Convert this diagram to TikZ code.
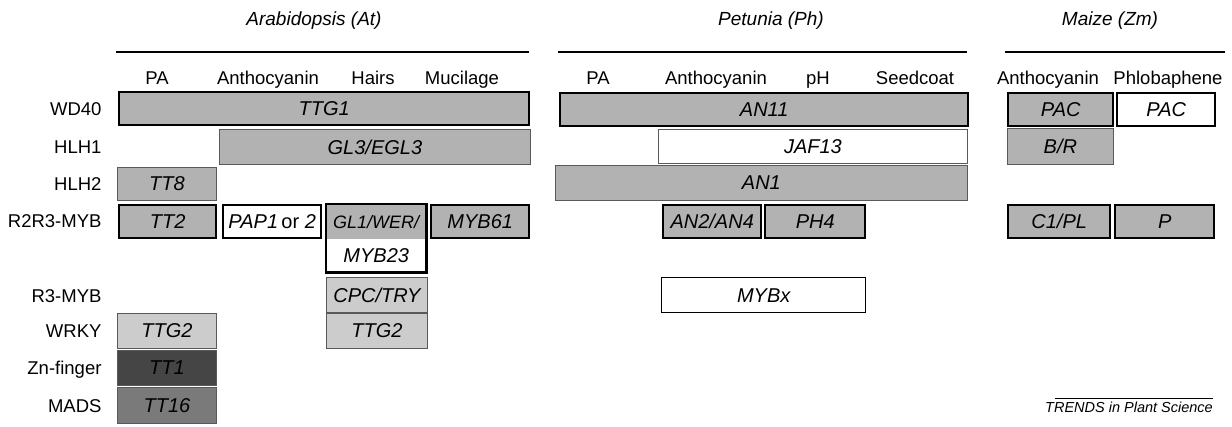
\documentclass[tikz,border=0pt]{standalone}
\usepackage{fontspec}
\setmainfont{Liberation Sans}
\usepackage{tikz}
\definecolor{midgray}{gray}{0.70}
\definecolor{palegray}{gray}{0.80}
\definecolor{darkfill}{gray}{0.27}
\definecolor{madsfill}{gray}{0.48}
\definecolor{thinline}{gray}{0.35}
\newcommand{\hdfont}{\fontsize{18.5}{20}\selectfont}
\newcommand{\boxfont}{\fontsize{20}{22}\selectfont\itshape}
\tikzset{
  x=1pt, y=-1pt, % one unit is one pixel of the figure, y runs downwards
  cell/.style={anchor=north west, inner sep=0pt, minimum height=35pt, font=\boxfont}, % every box of the table
  fat/.style={cell, draw=black, line width=2.4pt, fill=midgray}, % gray box with heavy frame
  fatwhite/.style={fat, fill=white}, % white box with heavy frame
  slim/.style={cell, draw=thinline, line width=0.8pt, fill=midgray}, % gray box with light frame
  slimpale/.style={slim, fill=palegray}, % paler box
  slimwhite/.style={slim, fill=white}, % white box with light frame
  rowlab/.style={anchor=base east, font=\hdfont}, % family names on the left
  colhead/.style={anchor=base, font=\hdfont}, % process names above the boxes
  species/.style={anchor=base, font=\fontsize{19}{21}\selectfont\itshape}, % species titles
  rule/.style={line width=2.4pt}, % line under each species
}
\begin{document}
\begin{tikzpicture}
  \useasboundingbox (0,0) rectangle (1232,426);

  % species and processes
  \node[species] (arab) at (314,25) {Arabidopsis (At)};
  \node[species] (petu) at (771,25) {Petunia (Ph)};
  \node[species] (maize) at (1110,25) {Maize (Zm)};
  \draw[rule] (116,52) -- (529,52);
  \draw[rule] (558,52) -- (967,52);
  \draw[rule] (1005,52) -- (1225,52);
  \node[colhead] (hpa) at (157,84) {PA};
  \node[colhead] (hanth) at (268,84) {Anthocyanin};
  \node[colhead] (hhair) at (373,84) {Hairs};
  \node[colhead] (hmuc) at (462,84) {Mucilage};
  \node[colhead] (ppa) at (598,84) {PA};
  \node[colhead] (panth) at (716,84) {Anthocyanin};
  \node[colhead] (pph) at (818,84) {pH};
  \node[colhead] (pseed) at (915,84) {Seedcoat};
  \node[colhead] (manth) at (1048,84) {Anthocyanin};
  \node[colhead] (mphlo) at (1168,84) {Phlobaphene};

  % families
  \node[rowlab] (wd40) at (105,115) {WD40};
  \node[rowlab] (hlh1) at (105,153) {HLH1};
  \node[rowlab] (hlh2) at (105,190) {HLH2};
  \node[rowlab] (r2r3) at (105,227) {R2R3-MYB};
  \node[rowlab] (r3) at (105,302) {R3-MYB};
  \node[rowlab] (wrky) at (105,337) {WRKY};
  \node[rowlab] (zn) at (105,374) {Zn-finger};
  \node[rowlab] (mads) at (105,412) {MADS};

  % Arabidopsis
  \node[fat, minimum width=410pt, minimum height=33pt] (ttg1) at (118,91) {TTG1};
  \node[slim, minimum width=311pt] (gl3) at (219,129) {GL3/EGL3};
  \node[slim, minimum width=99pt, minimum height=33pt] (tt8) at (117,167) {TT8};
  \node[fat, minimum width=97pt, minimum height=33pt] (tt2) at (118,204) {TT2};
  \node[fatwhite, minimum width=98pt, minimum height=33pt] (pap) at (222,204) {\textit{PAP1}\,\upshape or \textit{2}};
  \node[cell, fill=midgray, minimum width=100pt, font=\fontsize{18}{20}\selectfont\itshape] (gl1) at (326,204) {GL1/WER/};
  \node[cell, fill=white, minimum width=100pt, minimum height=33pt] (myb23) at (326,239) {MYB23};
  \draw[line width=2.4pt] (gl1.north west) rectangle (myb23.south east);
  \node[fat, minimum width=98pt, minimum height=33pt] (myb61) at (430,204) {MYB61};
  \node[slimpale, minimum width=101pt] (cpc) at (326,277) {CPC/TRY};
  \node[slimpale, minimum width=101pt] (ttg2b) at (326,313) {TTG2};
  \node[slimpale, minimum width=99pt] (ttg2a) at (117,313) {TTG2};
  \node[slim, fill=darkfill, minimum width=99pt] (tt1) at (117,350) {TT1};
  \node[slim, fill=madsfill, minimum width=99pt, minimum height=36pt] (tt16) at (117,387) {TT16};

  % Petunia
  \node[fat, minimum width=408pt, minimum height=33pt] (an11) at (559,92) {AN11};
  \node[slimwhite, minimum width=309pt, minimum height=34pt] (jaf13) at (658,129) {JAF13};
  \node[slim, minimum width=412pt] (an1) at (555,165) {AN1};
  \node[fat, minimum width=98pt, minimum height=33pt] (an2) at (662,204) {AN2/AN4};
  \node[fat, minimum width=100pt, minimum height=33pt] (ph4) at (764,204) {PH4};
  \node[slimwhite, draw=black, line width=1.4pt, minimum width=204pt] (mybx) at (661,277) {MYBx};

  % Maize
  \node[fat, minimum width=105pt, minimum height=33pt] (pac) at (1007,92) {PAC};
  \node[fatwhite, minimum width=98pt, minimum height=33pt] (pac2) at (1116,92) {PAC};
  \node[slim, minimum width=106pt, minimum height=36pt] (br) at (1007,128) {B/R};
  \node[fat, minimum width=102pt, minimum height=33pt] (c1) at (1007,204) {C1/PL};
  \node[fat, minimum width=99pt, minimum height=33pt] (pp) at (1114,204) {P};

  % journal mark
  \node[anchor=north east, inner sep=0pt, font=\fontsize{14.5}{16}\selectfont\itshape] (trends) at (1213,402) {TRENDS in Plant Science};
  \draw[line width=1pt] ([xshift=10pt,yshift=4pt]trends.north west) -- ([yshift=4pt]trends.north east);
\end{tikzpicture}
\end{document}
